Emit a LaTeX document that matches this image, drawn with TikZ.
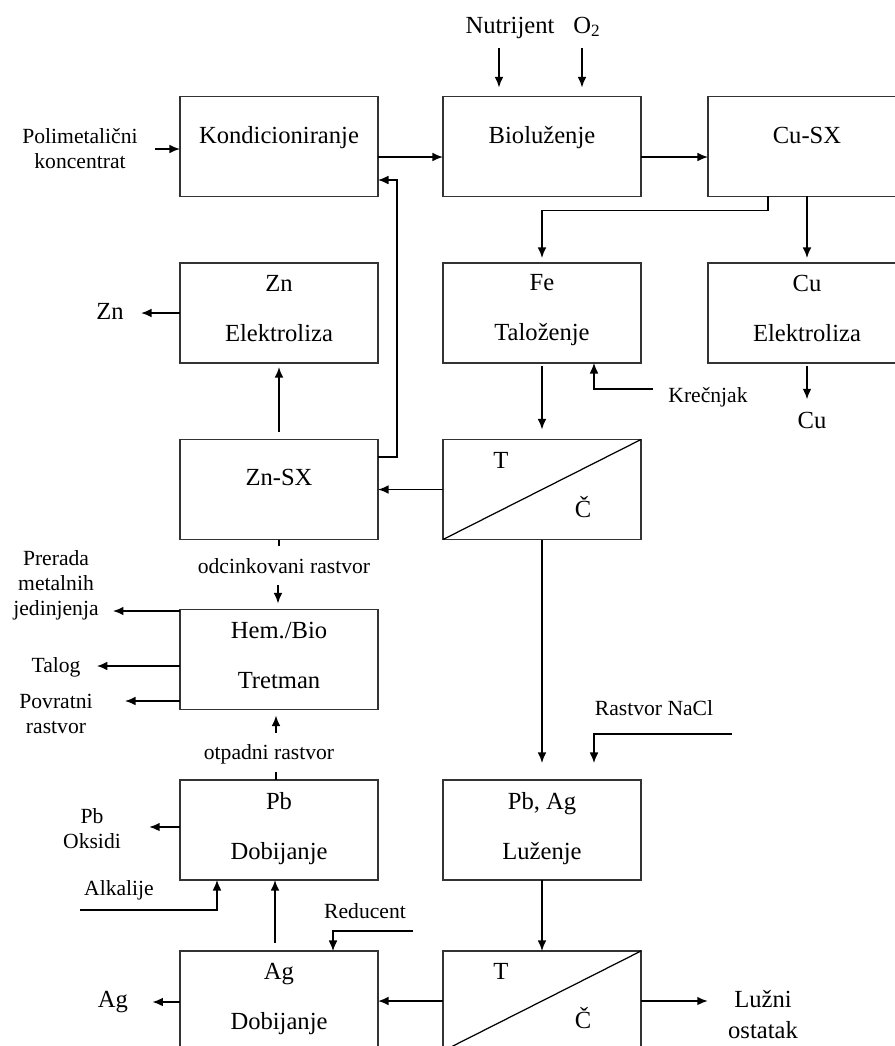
\documentclass[tikz,border=0pt]{standalone}
\usepackage{fontspec}
\setmainfont{Liberation Serif}
\usetikzlibrary{calc,positioning,arrows.meta}
\tikzset{>={Latex[length=6pt,width=5pt]}}
\tikzset{
  box/.style={draw=black!80, line width=0.7pt, minimum width=3.96cm, minimum height=2cm, inner sep=0pt, outer sep=0pt},
  boxtxt/.style={font=\fontsize{14}{27.9}\selectfont, align=center, anchor=base, inner sep=0pt},
  big/.style={font=\fontsize{14}{17.6}\selectfont, align=center, anchor=base, inner sep=0pt},
  small/.style={font=\fontsize{12.3}{14}\selectfont, align=center, anchor=base, inner sep=0pt},
  flow/.style={->, line width=1pt},
  feed/.style={->, line width=0.7pt},
}
\begin{document}
\begin{tikzpicture}[x=0.02cm, y=-0.02cm]
  \useasboundingbox (0,0) rectangle (895,1046);
  \clip (0,0) rectangle (895,1046);
  % process boxes
  \node[box] (kond) at (279,146.5) {};
  \node[box] (biol) at (542,146.5) {};
  \node[box] (cusx) at (807,146.5) {};
  \node[box] (znel) at (279,313) {};
  \node[box] (fetal) at (542,313) {};
  \node[box] (cuel) at (807,313) {};
  \node[box] (znsx) at (279,489.5) {};
  \node[box] (filt) at (542,489.5) {};
  \node[box] (tret) at (279,659.5) {};
  \node[box] (pbdob) at (279,830) {};
  \node[box] (luz) at (542,830) {};
  \node[box] (agdob) at (279,1001) {};
  \node[box] (filtb) at (542,1001) {};
  \draw[line width=0.7pt] (filt.south west) -- (filt.north east);
  \draw[line width=0.7pt] (filtb.south west) -- (filtb.north east);
  % box texts (base = last line)
  \node[boxtxt] (kond-t) at (279,143) {Kondicioniranje};
  \node[boxtxt] (biol-t) at (542,143) {Bioluženje};
  \node[boxtxt] (cusx-t) at (807,143) {Cu-SX};
  \node[boxtxt] (znel-t) at (279,341) {Zn\\Elektroliza};
  \node[boxtxt] (fetal-t) at (542,340) {Fe\\Taloženje};
  \node[boxtxt] (cuel-t) at (807,341) {Cu\\Elektroliza};
  \node[boxtxt] (znsx-t) at (279,485) {Zn-SX};
  \node[boxtxt] (filt-t) at (501,468) {T};
  \node[boxtxt] (filt-c) at (583,517) {Č};
  \node[boxtxt] (tret-t) at (279,688) {Hem./Bio\\Tretman};
  \node[boxtxt] (pbdob-t) at (279,859) {Pb\\Dobijanje};
  \node[boxtxt] (luz-t) at (542,859) {Pb, Ag\\Luženje};
  \node[boxtxt] (agdob-t) at (279,1029) {Ag\\Dobijanje};
  \node[boxtxt] (filtb-t) at (501,979) {T};
  \node[boxtxt] (filtb-c) at (583,1028) {Č};
  % inputs and outputs
  \node[small] (polim) at (80,168) {Polimetalični\\koncentrat};
  \node[big] (nutr) at (510,33) {Nutrijent};
  \node[big] (oxy) at (587,33) {O\textsubscript{2}};
  \node[big] (zn-out) at (110,319) {Zn};
  \node[small] (krec) at (708,402) {Krečnjak};
  \node[big] (cu-out) at (812,428) {Cu};
  \node[small] (odc) at (284,573) {odcinkovani rastvor};
  \node[small] (prer) at (56,615) {Prerada\\metalnih\\jedinjenja};
  \node[small] (talog) at (56,672) {Talog};
  \node[small] (povr) at (56,733) {Povratni\\rastvor};
  \node[small] (otp) at (269,759) {otpadni rastvor};
  \node[small] (nacl) at (654,715) {Rastvor NaCl};
  \node[small] (pbox) at (92,848) {Pb\\Oksidi};
  \node[small] (alk) at (119,895) {Alkalije};
  \node[small] (red) at (365,918) {Reducent};
  \node[big] (ag-out) at (113,1007) {Ag};
  \node[big] (luzni) at (763,1038) {Lužni\\ostatak};
  \coordinate (c-pol) at (155,149);
  \coordinate (c-krec) at (653,389);
  \coordinate (c-nacl) at (732,734);
  \coordinate (c-alk) at (80,910);
  \coordinate (c-red) at (413,931);
  \coordinate (c-odc) at (278,585);
  \coordinate (c-otp) at (276,733);
  % connectors
  \draw[flow] (c-pol) -- (c-pol -| kond.west);
  \draw[flow] ($(kond.east)+(0,10.5)$) -- ($(biol.west)+(0,10.5)$);
  \draw[flow] ($(biol.east)+(0,10.5)$) -- ($(cusx.west)+(0,10.5)$);
  \draw[flow, shorten >=0.18cm] ($(nutr.base)+(-11,15)$) -- ($(biol.north)+(-43,0)$);
  \draw[flow, shorten >=0.18cm] ($(oxy.base)+(-5,15)$) -- ($(biol.north)+(40,0)$);
  \draw[flow, shorten >=0.1cm] ($(cusx.south)+(-39,0)$) -- ++(0,14) -| (fetal.north);
  \draw[flow, shorten >=0.1cm] (cusx.south) -- (cuel.north);
  \draw[flow, shorten >=0.34cm] (znel.west) -- (znel.west -| zn-out.east);
  \draw[flow, shorten <=0.16cm, shorten >=0.08cm] (znsx.north) -- (znel.south);
  \draw[flow, shorten <=0.06cm, shorten >=0.2cm] (fetal.south) -- (filt.north);
  \draw[feed] (c-krec) -| ($(fetal.south)+(52,0)$);
  \draw[flow, shorten <=0.06cm, shorten >=0.24cm] (cuel.south) -- (cuel.south |- cu-out.north);
  \draw[flow] (filt.west) -- (znsx.east);
  \draw[feed] ($(znsx.east)+(0,-32.5)$) -- ++(19,0) |- ($(kond.east)+(0,33.5)$);
  \draw[line width=1pt] (znsx.south) -- ++(0,6);
  \draw[flow, shorten >=0.12cm] (c-odc) -- (c-odc |- tret.north);
  \draw[flow, shorten >=0.28cm] ($(tret.west)+(0,-48.5)$) coordinate (t1) -- (t1 -| prer.east);
  \draw[flow, shorten >=0.32cm] ($(tret.west)+(0,6.5)$) coordinate (t2) -- (t2 -| talog.east);
  \draw[flow, shorten >=0.64cm] ($(tret.west)+(0,41.5)$) coordinate (t3) -- (t3 -| povr.east);
  \draw[line width=1pt] ($(pbdob.north)+(-3,0)$) -- ++(0,-8);
  \draw[flow, shorten >=0.12cm] (c-otp) -- (c-otp |- tret.south);
  \draw[flow, shorten >=0.34cm] (filt.south) -- (luz.north);
  \draw[feed, shorten >=0.34cm] (c-nacl) -| ($(luz.north)+(52,0)$);
  \draw[flow, shorten >=0.56cm] ($(pbdob.west)+(0,-3)$) coordinate (p1) -- (p1 -| pbox.east);
  \draw[feed] (c-alk) -| ($(pbdob.south)+(-62,0)$);
  \draw[flow, shorten <=0.16cm] ($(agdob.north)+(-4,0)$) -- ($(pbdob.south)+(-4,0)$);
  \draw[feed] (c-red) -| ($(agdob.north)+(54,0)$);
  \draw[flow, shorten >=0.48cm] ($(agdob.west)+(0,1)$) coordinate (a1) -- (a1 -| ag-out.east);
  \draw[flow] (filtb.west) -- (agdob.east);
  \draw[flow] (luz.south) -- (filtb.north);
  \draw[flow, shorten >=0.4cm] (filtb.east) -- (filtb.east -| luzni.west);
\end{tikzpicture}
\end{document}
